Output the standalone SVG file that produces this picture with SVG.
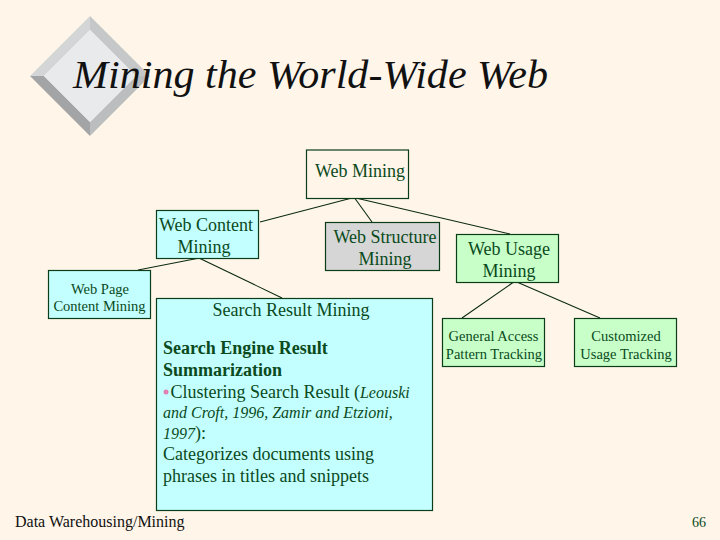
<svg xmlns="http://www.w3.org/2000/svg" width="720" height="540" viewBox="0 0 720 540">
<style>
text{font-family:"Liberation Serif","Times New Roman",serif;fill:#0a4a1c}
.box{stroke:#0a3d18;stroke-width:1.2}
.c{fill:#c4ffff}.g{fill:#c8ffc8}.w{fill:#fff5e9}.s{fill:#d6d6d6}
.l{font-size:18px;text-anchor:middle}
.m{font-size:14.5px;text-anchor:middle}
.b{font-size:18px}
.i{font-size:16px;font-style:italic}
.con{stroke:#0a2a10;stroke-width:1.1;fill:none}
</style>
<rect width="720" height="540" fill="#fff5e9"/>
<g id="bullet-diamond">
<polygon points="90,16 30,76 44,76 90,30" fill="#d4d5d6"/>
<polygon points="90,16 150,76 136,76 90,30" fill="#c6c7c8"/>
<polygon points="30,76 90,136 90,122 44,76" fill="#a3a4a5"/>
<polygon points="150,76 90,136 90,122 136,76" fill="#bcbdbe"/>
<polygon points="90,30 136,76 90,122 44,76" fill="#e9eaec"/>
</g>
<text id="title" x="73" y="88" font-size="41" font-style="italic" textLength="475" lengthAdjust="spacingAndGlyphs" style="fill:#111">Mining the World-Wide Web</text>
<g id="connectors" class="con">
<path d="M350,198.500L260,222"/>
<path d="M355,198.500L372,222"/>
<path d="M358,198.500L510,234"/>
<path d="M197,258.500L138,270"/>
<path d="M200,258.500L282,298"/>
<path d="M513,282.500L462,318"/>
<path d="M518,282.500L600,318"/>
</g>
<g id="web-mining"><rect class="box w" x="306.500" y="150" width="102" height="48.500"/><text class="l" x="360" y="177">Web Mining</text></g>
<g id="web-content"><rect class="box c" x="156.500" y="210.500" width="102" height="48"/><text class="l" x="206" y="231">Web Content</text><text class="l" x="204" y="253">Mining</text></g>
<g id="web-structure"><rect class="box s" x="325.500" y="222.500" width="114" height="48"/><text class="l" x="385" y="243">Web Structure</text><text class="l" x="385" y="265">Mining</text></g>
<g id="web-usage"><rect class="box g" x="456.500" y="234.500" width="102" height="48"/><text class="l" x="509" y="255">Web Usage</text><text class="l" x="509" y="277">Mining</text></g>
<g id="web-page"><rect class="box c" x="48.500" y="270.500" width="102" height="48"/><text class="m" x="100" y="294">Web Page</text><text class="m" x="99.500" y="311" font-size="14">Content Mining</text></g>
<g id="general-access"><rect class="box g" x="442.500" y="318.500" width="102" height="48"/><text class="m" x="493.500" y="341">General Access</text><text class="m" x="494" y="359">Pattern Tracking</text></g>
<g id="customized"><rect class="box g" x="574.500" y="318.500" width="102" height="48"/><text class="m" x="626" y="341">Customized</text><text class="m" x="626" y="359">Usage Tracking</text></g>
<g id="search-result"><rect class="box c" x="156.500" y="298.500" width="276" height="212"/>
<text class="l" x="291" y="316">Search Result Mining</text>
<text class="b" x="163" y="354" font-weight="bold">Search Engine Result</text>
<text class="b" x="163" y="376" font-weight="bold">Summarization</text>
<circle cx="166" cy="392" r="2.500" fill="#e080b0"/>
<text class="b" x="170.500" y="398">Clustering Search Result (<tspan class="i">Leouski</tspan></text>
<text class="i" x="163" y="418">and Croft, 1996, Zamir and Etzioni,</text>
<text x="163" y="439" class="b"><tspan class="i">1997</tspan>):</text>
<text class="b" x="163" y="460">Categorizes documents using</text>
<text class="b" x="163" y="482">phrases in titles and snippets</text>
</g>
<text id="footer" x="15" y="527" font-size="16" style="fill:#111">Data Warehousing/Mining</text>
<text id="page" x="692" y="527" font-size="14">66</text>
</svg>
